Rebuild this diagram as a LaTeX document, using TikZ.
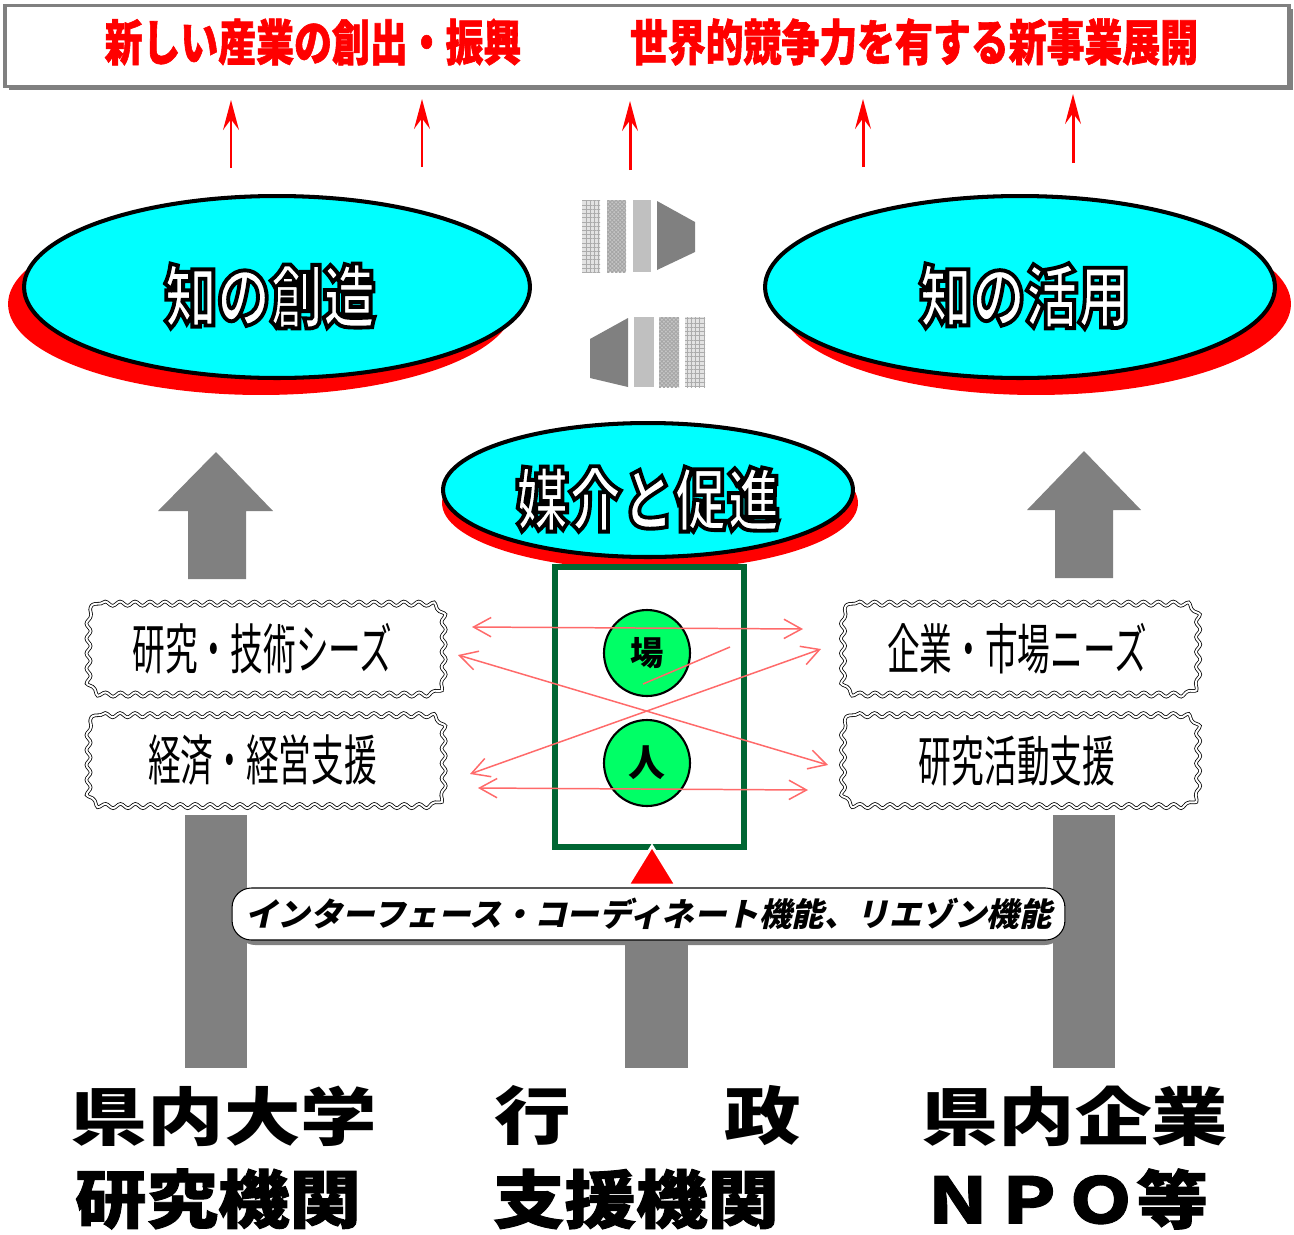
\documentclass[tikz,border=0pt]{standalone}
\usepackage{fontspec}
\usetikzlibrary{shapes.geometric,arrows.meta,decorations.pathmorphing,patterns.meta,calc}
\newfontfamily\jp{Noto Sans CJK JP}
\newfontfamily\jpt[FakeStretch=0.77]{Noto Sans CJK JP}
\newfontfamily\jptb[FakeStretch=0.77,FakeBold=1.2]{Noto Sans CJK JP}
\newfontfamily\jpc[FakeStretch=0.6]{Noto Sans CJK JP}
\newfontfamily\jpi[FakeSlant=0.22]{Noto Sans CJK JP}
\newfontfamily\jpwa[FakeStretch=1.21]{Noto Sans CJK JP}
\newfontfamily\jpwb[FakeStretch=1.13,FakeBold=1.5]{Noto Sans CJK JP}
\definecolor{cyanfill}{HTML}{00FFFF}
\definecolor{circgreen}{HTML}{00FF66}
\definecolor{boxgreen}{HTML}{006633}
\definecolor{midgray}{HTML}{808080}
\definecolor{paleblock}{HTML}{C0C0C0}
\definecolor{pinkred}{HTML}{FF6A6A}

% white text with a black stroked outline (text rendering mode 2)
\newcommand{\outlined}[1]{\special{pdf:code 2 Tr 2.2 w 0 0 0 RG}#1\special{pdf:code 0 Tr}}

\newcommand{\wavybox}[1]{%
  \draw[wavy] let \p1=(#1.north west), \p2=(#1.south east) in
    (\x1+9pt,\y1) -- (\x2-9pt,\y1)
    .. controls (\x2-4pt,\y1) and (\x2,\y1-4pt) .. (\x2,\y1-9pt)
    -- (\x2,\y2+9pt)
    .. controls (\x2,\y2+4pt) and (\x2-4pt,\y2) .. (\x2-9pt,\y2)
    -- (\x1+9pt,\y2)
    .. controls (\x1+4pt,\y2) and (\x1,\y2+4pt) .. (\x1,\y2+9pt)
    -- (\x1,\y1-9pt)
    .. controls (\x1,\y1-4pt) and (\x1+4pt,\y1) .. (\x1+9pt,\y1) -- cycle;%
}

\begin{document}
\begin{tikzpicture}[x=0.02cm, y=-0.02cm,
  ovltext/.style={font=\jpt\bfseries\fontsize{39}{39}\selectfont, text=white, inner sep=0},
  titletext/.style={font=\jptb\bfseries\fontsize{28}{28}\selectfont, inner sep=0},
  kellipse/.style={ellipse, draw=black, line width=2.3pt, fill=cyanfill, inner sep=0},
  kshadow/.style={ellipse, fill=red, inner sep=0},
  uparrow/.style={red, line width=1.7pt, -{Stealth[length=17pt,width=9pt,inset=6pt]}},
  blockarrow/.style={fill=midgray},
  patlight/.style={fill=gray!22, postaction={pattern={Hatch[distance=2.4pt,angle=0,line width=0.55pt]}, pattern color=gray!65}},
  patdark/.style={fill=gray!45, postaction={pattern={Hatch[distance=1.6pt,angle=45,line width=0.5pt]}, pattern color=gray!70}},
  boxlabel/.style={font=\jpc\fontsize{31}{31}\selectfont, minimum width=7.1cm, minimum height=1.8cm, inner sep=0},
  wavy/.style={draw=black, line width=0.45pt, double=white, double distance=1.1pt,
     decorate, decoration={snake, amplitude=1.2pt, segment length=8.5pt}},
  circ/.style={circle, draw=black, line width=1.2pt, fill=circgreen, minimum size=1.72cm, inner sep=0,
     font=\jp\bfseries\fontsize{19}{19}\selectfont},
  link/.style={pinkred, line width=0.85pt, {Straight Barb[length=10pt,width=11pt]}-{Straight Barb[length=10pt,width=11pt]}},
  bottomA/.style={font=\jpwa\bfseries\fontsize{36}{36}\selectfont, inner sep=0},
  bottomB/.style={font=\jpwb\bfseries\fontsize{36}{36}\selectfont, inner sep=0}
]
\useasboundingbox (0,0) rectangle (1294,1234);
\fill[white] (0,0) rectangle (1294,1234);

% ---- top banner ----
\fill[midgray] (9,9) rectangle (1293,90);
\node[draw=midgray, line width=2pt, fill=white, minimum width=25.68cm, minimum height=1.62cm, inner sep=0] (banner) at (647,46) {};
\node[titletext, text=red] (goalA) at (313,42) {新しい産業の創出・振興};
\node[titletext, text=red] (goalB) at (914,42) {世界的競争力を有する新事業展開};

% ---- red arrows to banner ----
\foreach \i/\xs/\ys/\ye in {1/231/168/100, 2/422/167/99, 3/630/170/101, 4/863/167/99, 5/1073/163/94}{
  \coordinate (ua\i) at (\xs,\ys);
  \coordinate (ub\i) at (\xs,\ye);
  \draw[uparrow] (ua\i) -- (ub\i);
}

% ---- knowledge ellipses ----
\node[kshadow, minimum width=10.12cm, minimum height=3.64cm] (createsh) at (261,304) {};
\node[kellipse, minimum width=10.12cm, minimum height=3.64cm] (create) at (277,287) {};
\node[ovltext] (createtxt) at (270,296) {\outlined{知の創造}};

\node[kshadow, minimum width=10.2cm, minimum height=3.64cm] (usesh) at (1036,304) {};
\node[kellipse, minimum width=10.2cm, minimum height=3.64cm] (use) at (1020,287) {};
\node[ovltext] (usetxt) at (1025,296) {\outlined{知の活用}};

% ---- striped arrows ----
\path[patlight] (582,200) rectangle (600,272);
\path[patdark] (607,200) rectangle (626,272);
\fill[paleblock] (633,200) rectangle (651,272);
\fill[midgray] (657,201) -- (695,222) -- (695,252) -- (657,270) -- cycle;

\fill[midgray] (628,318) -- (590,339) -- (590,378) -- (628,387) -- cycle;
\fill[paleblock] (634,317) rectangle (654,387);
\path[patdark] (659,317) rectangle (679,387);
\path[patlight] (685,317) rectangle (705,387);

% ---- block up arrows ----
\fill[blockarrow] (216,452) -- (273,511) -- (246,511) -- (246,579) -- (188,579) -- (188,511) -- (158,511) -- cycle;
\fill[blockarrow] (1084,451) -- (1141,510) -- (1113,510) -- (1113,578) -- (1055,578) -- (1055,510) -- (1027,510) -- cycle;

% ---- vertical bars ----
\fill[midgray] (185,815) rectangle (247,1068);
\fill[midgray] (1053,815) rectangle (1115,1068);
\fill[midgray] (625,940) rectangle (688,1068);

% ---- mediation ellipse ----
\node[kshadow, minimum width=8.32cm, minimum height=2.68cm] (mediash) at (650,503) {};
\node[kellipse, minimum width=8.2cm, minimum height=2.68cm] (media) at (648,490) {};
\node[ovltext] (mediatxt) at (648,499) {\outlined{媒介と促進}};

% ---- wavy boxes ----
\node[boxlabel] (seeds) at (262.5,649) {研究・技術シーズ};
\node[boxlabel] (econ) at (262.5,760.5) {経済・経営支援};
\node[boxlabel] (needs) at (1017,649) {企業・市場ニーズ};
\node[boxlabel] (rsup) at (1017,760.5) {研究活動支援};
\wavybox{seeds}
\wavybox{econ}
\wavybox{needs}
\wavybox{rsup}

% ---- green box with circles ----
\node[draw=boxgreen, line width=3.4pt, minimum width=3.78cm, minimum height=5.6cm, inner sep=0] (gbox) at (649.5,707) {};
\node[circ] (place) at (647,653) {場};
\node[circ, font=\jp\bfseries\fontsize{21}{21}\selectfont] (person) at (647,763) {人};

% ---- linking arrows ----
\coordinate (l1a) at (472,627); \coordinate (l1b) at (803,629);
\coordinate (l2a) at (458,655); \coordinate (l2b) at (828,765);
\coordinate (l3a) at (470,774); \coordinate (l3b) at (821,649);
\coordinate (l4a) at (478,788); \coordinate (l4b) at (808,790);
\coordinate (l5a) at (730,647); \coordinate (l5b) at (643,684);
\draw[link] (l1a) -- (l1b);
\draw[link] (l2a) -- (l2b);
\draw[link] (l3a) -- (l3b);
\draw[link] (l4a) -- (l4b);
\draw[pinkred, line width=0.85pt] (l5a) -- (l5b);

% ---- interface label ----
\fill[midgray, rounded corners=11pt] (236,893) rectangle (1064,945);
\node[draw=black, line width=0.6pt, fill=white, rounded corners=11pt, minimum width=16.66cm, minimum height=1.04cm, inner sep=0,
  font=\jpi\bfseries\fontsize{18.5}{18.5}\selectfont] (iface) at (648.5,914) {インターフェース・コーディネート機能、リエゾン機能};
\coordinate (tritip) at (652,846);
\fill[red, draw=white, line width=1.6pt] (tritip) -- (676,885) -- (628,885) -- cycle;

% ---- bottom actors ----
\node[bottomA] (univA) at (224,1116) {県内大学};
\node[bottomB] (univB) at (218,1199) {研究機関};
\node[bottomA] (govA) at (648,1116) {行　　政};
\node[bottomB] (govB) at (636,1199) {支援機関};
\node[bottomA] (firmA) at (1075,1116) {県内企業};
\node[bottomB] (firmB) at (1065,1199) {ＮＰＯ等};
\end{tikzpicture}
\end{document}
